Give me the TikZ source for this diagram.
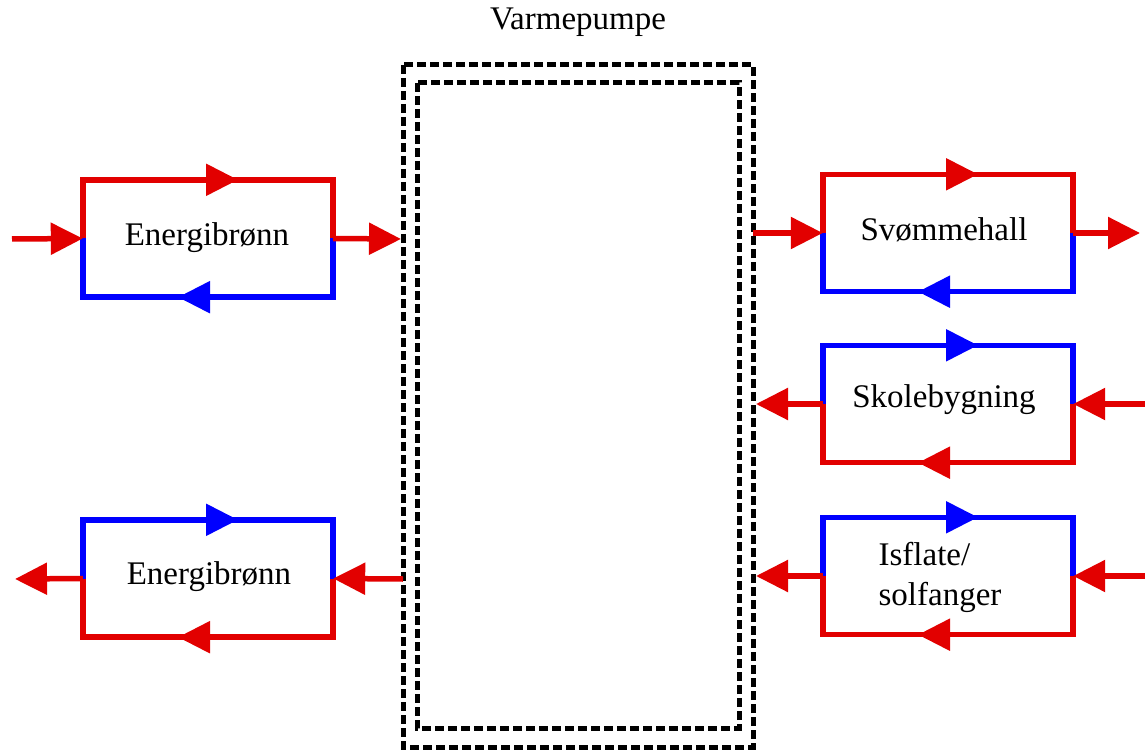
\documentclass[tikz,border=0pt]{standalone}
\usepackage{fontspec}
\setmainfont{Liberation Serif}
\usetikzlibrary{arrows.meta,calc}
\definecolor{hot}{RGB}{226,0,0}
\definecolor{cold}{RGB}{0,0,255}
\newcommand\drawpipeloop[3]{%
  \draw[pipe,#2] (#1.west) -- (#1.north west) -- (#1.north east) -- (#1.east);
  \draw[pipe,#2,tip] (#1.north west) -- ($(#1.north)+(30,0)$);
  \draw[pipe,#3] (#1.east) -- (#1.south east) -- (#1.south west) -- (#1.west);
  \draw[pipe,#3,tip] (#1.south east) -- ($(#1.south)+(-30,0)$);
}
\begin{document}
\begin{tikzpicture}[x=1pt,y=-1pt,
  pipe/.style={line width=5.5pt, line join=miter},
  tip/.style={-{Triangle[length=32pt,width=31pt]}},
  loopbox/.style={draw=none, inner sep=0pt, minimum width=250pt, minimum height=117pt},
  lbl/.style={font=\fontsize{33}{40}\selectfont, inner sep=0pt},
  vpbox/.style={draw, line width=5pt, dash pattern=on 9pt off 4pt}]
\useasboundingbox (0,0) rectangle (1145,751);
\fill[white] (0,0) rectangle (1145,751);

% heat pump
\node[lbl] (title) at (578,22) {Varmepumpe};
\draw[vpbox] (403,65) rectangle (753,747);
\draw[vpbox] (417,83) rectangle (739,728);

% loops
\node[loopbox] (L1) at (208,238.5) {};
\node[loopbox] (L2) at (208,578.5) {};
\node[loopbox] (R1) at (948,233) {};
\node[loopbox] (R2) at (948,404) {};
\node[loopbox] (R3) at (948,576) {};

\drawpipeloop{L1}{hot}{cold}
\drawpipeloop{L2}{cold}{hot}
\drawpipeloop{R1}{hot}{cold}
\drawpipeloop{R2}{cold}{hot}
\drawpipeloop{R3}{cold}{hot}

% labels
\node[lbl] (t1) at (207,238) {Energibrønn};
\node[lbl] (t2) at (209,577) {Energibrønn};
\node[lbl] (t3) at (944,230) {Svømmehall};
\node[lbl] (t4) at (944,400) {Skolebygning};
\node[lbl, align=left] (t5) at (940,577) {Isflate/\\solfanger};

% connectors
\coordinate (a1) at (12,239);
\coordinate (a2) at (401,239);
\draw[pipe,hot,tip] (a1) -- (L1.west);
\draw[pipe,hot,tip] (L1.east) -- (a2);

\coordinate (b1) at (403,579);
\coordinate (b2) at (15,579);
\draw[pipe,hot,tip] (b1) -- (L2.east);
\draw[pipe,hot,tip] (L2.west) -- (b2);

\coordinate (c1) at (753,233);
\coordinate (c2) at (1140,233);
\draw[pipe,hot,tip] (c1) -- (R1.west);
\draw[pipe,hot,tip] (R1.east) -- (c2);

\coordinate (d1) at (1145,404);
\coordinate (d2) at (756,404);
\draw[pipe,hot,tip] (d1) -- (R2.east);
\draw[pipe,hot,tip] (R2.west) -- (d2);

\coordinate (e1) at (1145,576);
\coordinate (e2) at (756,576);
\draw[pipe,hot,tip] (e1) -- (R3.east);
\draw[pipe,hot,tip] (R3.west) -- (e2);
\end{tikzpicture}
\end{document}
